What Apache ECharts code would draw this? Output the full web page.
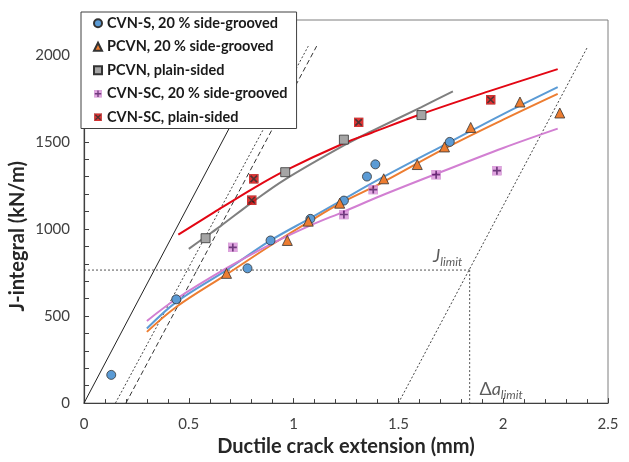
<!DOCTYPE html>
<html><head><meta charset="utf-8">
<script src="https://cdn.jsdelivr.net/npm/echarts@6/dist/echarts.min.js"></script>
<style>html,body{margin:0;padding:0;background:#fff}#c{width:629px;height:462px}</style>
</head><body><div id="c"></div>
<script>
// ---- data ----
const names = ['CVN-S, 20 % side-grooved','PCVN, 20 % side-grooved','PCVN, plain-sided','CVN-SC, 20 % side-grooved','CVN-SC, plain-sided'];
const cvnS_pts = [[0.13,162],[0.44,596],[0.78,774],[0.89,934],[1.08,1058],[1.24,1163],[1.35,1301],[1.39,1371],[1.745,1500]];
const pcvnSG_pts = [[0.68,745],[0.97,934],[1.07,1045],[1.22,1148],[1.43,1288],[1.59,1370],[1.72,1471],[1.845,1583],[2.08,1729],[2.27,1666]];
const pcvnPS_pts = [[0.58,947],[0.96,1326],[1.24,1513],[1.61,1654]];
const cvnscSG_pts = [[0.71,894],[1.24,1083],[1.38,1226],[1.68,1312],[1.97,1335]];
const cvnscPS_pts = [[0.81,1288],[0.80,1165],[1.31,1612],[1.94,1742]];
// fitted curves
const cvnS_fit = [[0.30,428],[0.44,580],[0.68,764],[0.89,934],[1.08,1062],[1.24,1172],[1.42,1293],[1.75,1502],[2.0,1660],[2.26,1815]];
const pcvnSG_fit = [[0.30,409],[0.44,552],[0.68,739],[0.89,905],[1.07,1039],[1.22,1146],[1.42,1265],[1.72,1461],[2.0,1628],[2.26,1776]];
const pcvnPS_fit = [[0.50,886],[0.58,955],[0.65,1015],[0.81,1160],[0.96,1285],[1.24,1480],[1.37,1560],[1.61,1700],[1.76,1790]];
const cvnscSG_fit = [[0.30,472],[0.44,598],[0.68,775],[0.89,912],[1.07,1015],[1.24,1100],[1.42,1192],[1.68,1316],[2.0,1465],[2.26,1576]];
const cvnscPS_fit = [[0.45,967],[0.62,1095],[0.81,1235],[0.96,1335],[1.24,1492],[1.37,1551],[1.61,1660],[1.93,1790],[2.26,1918]];
// construction lines
const blunt0 = [[0,0],[0.90,2050]];
const excl015 = [[0.15,0],[1.07,2050]];
const excl02 = [[0.20,0],[1.11,2050]];
const excl15 = [[1.50,0],[2.40,2040]];
const jLimitH = [[0,764],[1.84,764]];
const jLimitV = [[1.84,764],[1.84,0]];
const jLimitLabelPos = [[1.735,837]];
const daLimitLabelPos = [[1.99,74]];
const xTicks = {min:0, max:2.5, step:0.5};
const yTicks = {min:0, max:2200, step:100, labelStep:500};

// ---- styling ----
const F = 'Lato, "Liberation Sans", sans-serif';
function svgSym(svg){ return 'image://data:image/svg+xml;charset=utf-8,' + encodeURIComponent(svg); }
const plusSym = svgSym("<svg xmlns='http://www.w3.org/2000/svg' width='20' height='20'><rect x='0.5' y='0.5' width='19' height='19' fill='#D98ED9' stroke='#C07AC0'/><path d='M10 2V18M2 10H18' stroke='#4E0A5E' stroke-width='3.4'/></svg>");
const xSym = svgSym("<svg xmlns='http://www.w3.org/2000/svg' width='20' height='20'><rect x='0.5' y='0.5' width='19' height='19' fill='#D90000' stroke='#8A0000'/><path d='M3.5 3.5L16.5 16.5M16.5 3.5L3.5 16.5' stroke='#2A0000' stroke-width='3.4'/></svg>");

const cols = {blue:'#5B9BD5', orange:'#ED7D31', gray:'#A5A5A5', grayLine:'#7F7F7F', red:'#E30613', pink:'#D27FD2'};

function guide(data, color, type, width){
  return {type:'line', data, symbol:'none', silent:true, z:1, animation:false,
    lineStyle:{color, width:width||1, type}};
}
function fit(data, color){
  return {type:'line', data, symbol:'none', smooth:0.35, silent:true, z:2, animation:false,
    lineStyle:{color, width:2}};
}
function pts(name, data, symbol, color, size){
  return {type:'scatter', name, data, symbol, symbolSize:size||9, z:3, animation:false,
    itemStyle:{color, borderColor:'#333', borderWidth:0.8, opacity:1}};
}

const chart = echarts.init(document.getElementById('c'), null, {renderer:'canvas'});
chart.setOption({
  animation:false,
  grid:{left:84, right:21, top:20, bottom:58, show:true, borderColor:'#7f7f7f', borderWidth:1, backgroundColor:'transparent'},
  legend:{
    data:names, orient:'vertical', left:81, top:12, z:10,
    padding:[3,9,3,12], itemWidth:8, itemHeight:8, itemGap:7,
    backgroundColor:'#fff', borderColor:'#404040', borderWidth:1,
    textStyle:{fontFamily:F, fontSize:14.5, fontWeight:'bold', color:'#1a1a1a', lineHeight:16.5},
    selectedMode:false
  },
  xAxis:{
    type:'value', min:xTicks.min, max:xTicks.max, interval:xTicks.step,
    name:'Ductile crack extension (mm)', nameLocation:'middle', nameGap:31,
    nameTextStyle:{fontFamily:F, fontSize:20, fontWeight:'bold', color:'#262626'},
    axisLine:{show:true, onZero:false, lineStyle:{color:'#404040', width:1.2}},
    axisTick:{show:true, inside:true, length:5, lineStyle:{color:'#404040'}},
    minorTick:{show:true, splitNumber:5, length:4, lineStyle:{color:'#404040'}},
    splitLine:{show:false}, minorSplitLine:{show:false},
    axisLabel:{fontFamily:F, fontSize:15, color:'#404040', margin:14, formatter:v=>String(v)}
  },
  yAxis:{
    type:'value', min:yTicks.min, max:yTicks.max, interval:yTicks.step,
    axisLine:{show:true, onZero:false, lineStyle:{color:'#404040', width:1.2}},
    axisTick:{show:true, inside:true, length:5, lineStyle:{color:'#404040'}},
    splitLine:{show:false},
    axisLabel:{fontFamily:F, fontSize:15, color:'#404040', margin:14,
      formatter:v=> (Math.round(v)%yTicks.labelStep===0 && v<=2000) ? String(v) : ''}
  },
  graphic:[{type:'text', left:8, top:161, rotation:Math.PI/2, z:5,
    style:{text:'J-integral (kN/m)', font:'bold 20px '+F, fill:'#262626'}}],
  series:[
    guide(blunt0,'#222','solid',1),
    guide(excl015,'#444',[2,2],1),
    guide(excl02,'#333',[5,3],1),
    guide(excl15,'#444',[2,2],1),
    guide(jLimitH,'#555',[2,2],1),
    guide(jLimitV,'#555',[2,2],1),
    fit(cvnS_fit, cols.blue),
    fit(pcvnSG_fit, cols.orange),
    fit(pcvnPS_fit, cols.grayLine),
    fit(cvnscSG_fit, cols.pink),
    fit(cvnscPS_fit, cols.red),
    pts(names[0], cvnS_pts, 'circle', cols.blue, 9),
    pts(names[1], pcvnSG_pts, 'triangle', cols.orange, 10),
    pts(names[2], pcvnPS_pts, 'rect', cols.gray, 9),
    {type:'scatter', name:names[3], data:cvnscSG_pts, symbol:plusSym, symbolSize:10, z:3, animation:false, itemStyle:{color:'#D98ED9'}},
    {type:'scatter', name:names[4], data:cvnscPS_pts, symbol:xSym, symbolSize:10, z:3, animation:false, itemStyle:{color:'#D90000'}},
    {type:'scatter', data:jLimitLabelPos, symbolSize:0, silent:true, z:4, animation:false,
      label:{show:true, position:'inside', formatter:'{j|J}{s|limit}',
        rich:{j:{fontFamily:F, fontStyle:'italic', fontSize:18, color:'#333', verticalAlign:'bottom', lineHeight:22, padding:[0,0,3,0]},
              s:{fontFamily:F, fontStyle:'italic', fontSize:12, color:'#333', verticalAlign:'bottom', lineHeight:14}}}},
    {type:'scatter', data:daLimitLabelPos, symbolSize:0, silent:true, z:4, animation:false,
      label:{show:true, position:'inside', formatter:'{d|Δ}{a|a}{s|limit}',
        rich:{d:{fontFamily:F, fontSize:18, color:'#333', verticalAlign:'bottom', lineHeight:22, padding:[0,0,3,0]},
              a:{fontFamily:F, fontStyle:'italic', fontSize:18, color:'#333', verticalAlign:'bottom', lineHeight:22, padding:[0,0,3,0]},
              s:{fontFamily:F, fontStyle:'italic', fontSize:12, color:'#333', verticalAlign:'bottom', lineHeight:14}}}}
  ]
});
</script></body></html>
